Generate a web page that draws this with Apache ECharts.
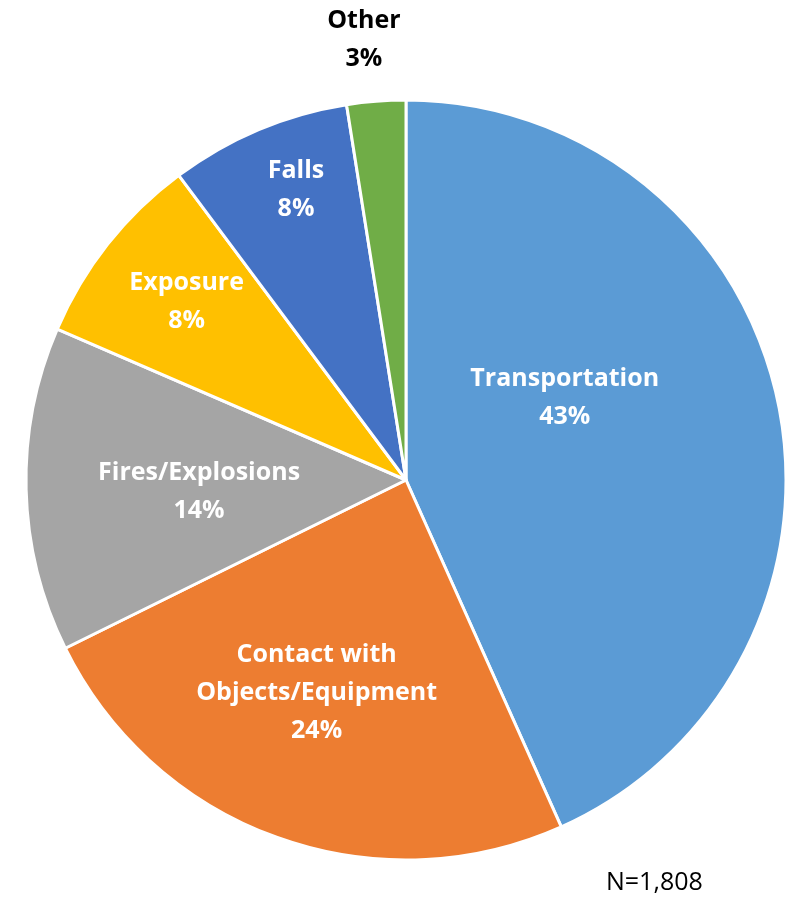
<!DOCTYPE html>
<html>
<head>
<meta charset="utf-8">
<script src="https://cdn.jsdelivr.net/npm/echarts@6/dist/echarts.min.js"></script>
<style>
  html, body { margin: 0; padding: 0; background: #fff; }
  #chart { width: 794px; height: 905px; }
</style>
</head>
<body>
<div id="chart"></div>
<script>
// share of fatalities by event type
const categories = ['Transportation', 'Contact with\nObjects/Equipment', 'Fires/Explosions', 'Exposure', 'Falls', 'Other'];
const values = [43.3, 24.4, 13.8, 8.3, 7.7, 2.5];
const labelPercents = ['43%', '24%', '14%', '8%', '8%', '3%'];
const colors = ['#5B9BD5', '#ED7D31', '#A5A5A5', '#FFC000', '#4472C4', '#70AD47'];
const totalText = 'N=1,808';

// label nudges from the default inside spot (Excel "best fit" look)
const labelShift = [[-30, -42], [-24, 31], [-14, 7], [-68, -58], [-35, -112], [-27, -248]];

function initChart() {
    const chart = echarts.init(document.getElementById('chart'));
    const data = categories.map((name, i) => ({
        name,
        value: values[i],
        itemStyle: { color: colors[i] },
        label: i === 5 ? { color: '#000' } : {}
    }));

    chart.setOption({
        animation: false,
        graphic: [{
            type: 'text',
            left: 606,
            top: 870,
            style: {
                text: totalText,
                font: '25px "Open Sans", sans-serif',
                fill: '#000'
            }
        }],
        series: [{
            type: 'pie',
            center: [406, 480],
            radius: 380,
            startAngle: 90,
            clockwise: true,
            data,
            itemStyle: { borderColor: '#fff', borderWidth: 3 },
            label: {
                show: true,
                position: 'inside',
                color: '#fff',
                fontFamily: 'Open Sans',
                fontWeight: 'bold',
                fontSize: 25,
                lineHeight: 38,
                formatter: p => p.name + '\n' + labelPercents[p.dataIndex]
            },
            labelLine: { show: false },
            labelLayout: p => ({ dx: labelShift[p.dataIndex][0], dy: labelShift[p.dataIndex][1] })
        }]
    });
}

window.addEventListener('DOMContentLoaded', initChart);
</script>
</body>
</html>
